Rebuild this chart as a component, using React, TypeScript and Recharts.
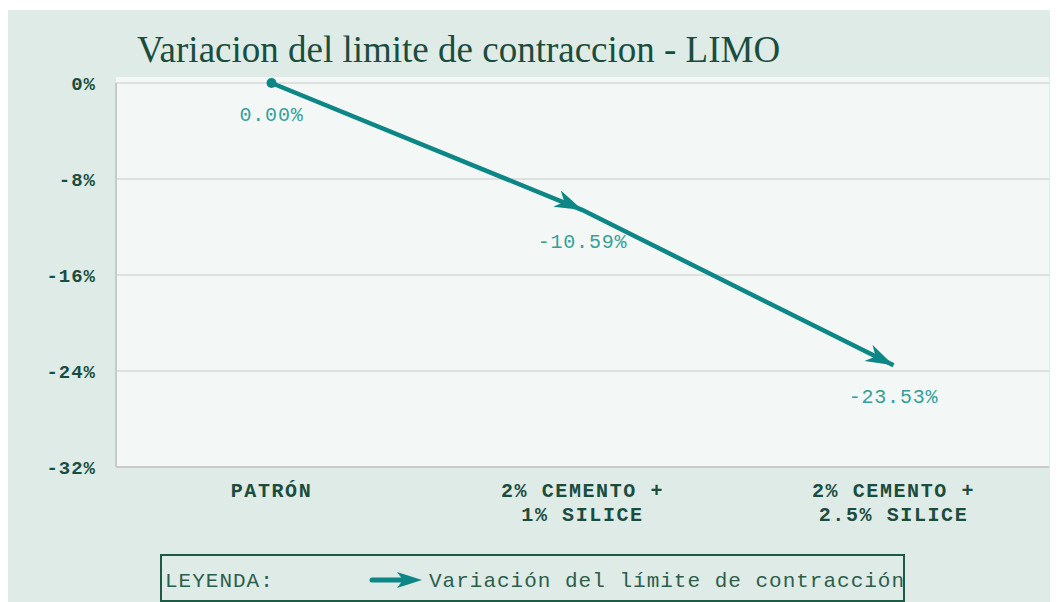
import { LineChart, Line, XAxis, YAxis, CartesianGrid, LabelList } from "recharts";

const categories = ["PATRÓN", "2% CEMENTO + 1% SILICE", "2% CEMENTO + 2.5% SILICE"];
const categoryLines = [["PATRÓN"], ["2% CEMENTO +", "1% SILICE"], ["2% CEMENTO +", "2.5% SILICE"]];
const variation = [0, -10.59, -23.53];
const yTicks = [0, -8, -16, -24, -32];

const data = categories.map((name, i) => ({ idx: i, name, value: variation[i] }));

const BG = "#deebe6";
const PLOT_BG = "#f3f8f6";
const DARK = "#1b4d3e";
const TEAL = "#0d8686";
const LABEL_TEAL = "#35a09b";
const MONO = "'Liberation Mono', 'DejaVu Sans Mono', monospace";

const XTick = (props: any) => {
  const { x, y, payload } = props;
  const lines = categoryLines[payload.value] ?? [];
  return (
    <text x={x} y={y} textAnchor="middle" fill={DARK} fontFamily={MONO} fontWeight="bold" fontSize={20} letterSpacing={1.6}>
      {lines.map((l, i) => (
        <tspan key={i} x={x} dy={i === 0 ? 22 : 24}>{l}</tspan>
      ))}
    </text>
  );
};

const ValueLabel = (props: any) => {
  const { x, y, value } = props;
  return (
    <text x={x} y={y + 38} textAnchor="middle" fill={LABEL_TEAL} fontFamily={MONO} fontSize={20} letterSpacing={0.8}>
      {Number(value).toFixed(2)}%
    </text>
  );
};

const StartDot = (props: any) => {
  const { cx, cy, index } = props;
  if (index !== 0) return <g key={index} />;
  return <circle key={index} cx={cx} cy={cy} r={5} fill={TEAL} />;
};

export default function App() {
  return (
    <div style={{ position: "relative", width: 1050, height: 592, marginTop: 2, background: BG, overflow: "hidden" }}>
      <svg width={0} height={0} style={{ position: "absolute" }}>
        <defs>
          <marker id="arrowHead" markerUnits="userSpaceOnUse" markerWidth={32} markerHeight={22} refX={28} refY={9} orient="auto">
            <path d="M0,0 L28,9 L0,18 L8,9 Z" fill={TEAL} />
          </marker>
        </defs>
      </svg>
      <div style={{ position: "absolute", left: 108, top: 67, width: 933, height: 390, background: PLOT_BG }} />
      <div style={{ position: "absolute", left: 0, top: 0 }}>
        <LineChart width={1050} height={592} data={data} margin={{ top: 73, right: 9, bottom: 75, left: 0 }}>
          <CartesianGrid vertical={false} stroke="#d8d8d8" strokeWidth={1.5} />
          <XAxis
            dataKey="idx"
            type="number"
            domain={[-0.5, 2.5]}
            ticks={[0, 1, 2]}
            height={60}
            axisLine={{ stroke: "#c9c9c9", strokeWidth: 2 }}
            tickLine={false}
            tick={<XTick />}
          />
          <YAxis
            type="number"
            domain={[-32, 0]}
            ticks={yTicks}
            width={108}
            axisLine={{ stroke: "#c9c9c9", strokeWidth: 2 }}
            tickLine={false}
            tickMargin={14}
            tickFormatter={(v: number) => `${v}%`}
            tick={{ fill: DARK, fontFamily: MONO, fontWeight: "bold", fontSize: 19, letterSpacing: 1 }}
          />
          <Line
            type="linear"
            dataKey="value"
            stroke={TEAL}
            strokeWidth={4.5}
            dot={<StartDot />}
            activeDot={false}
            markerMid="url(#arrowHead)"
            markerEnd="url(#arrowHead)"
            isAnimationActive={false}
          >
            <LabelList dataKey="value" content={<ValueLabel />} />
          </Line>
        </LineChart>
      </div>
      <svg width={1050} height={592} style={{ position: "absolute", left: 0, top: 0, pointerEvents: "none" }}>
        <text x={129} y={52} fill={DARK} fontFamily="'Liberation Serif', serif" fontSize={37}>
          Variacion del limite de contraccion - LIMO
        </text>
        <rect x={153} y={545} width={743} height={46} fill="none" stroke="#1e5a45" strokeWidth={2} />
        <text x={157} y={577} fill="#2d5e4c" fontFamily={MONO} fontSize={21} letterSpacing={1}>LEYENDA:</text>
        <line x1={364} y1={570} x2={402} y2={570} stroke={TEAL} strokeWidth={5} strokeLinecap="round" />
        <path d="M389,562 L414,570 L389,578 L395,570 Z" fill={TEAL} />
        <text x={421} y={577} fill="#2d5e4c" fontFamily={MONO} fontSize={21} letterSpacing={1}>
          Variación del límite de contracción
        </text>
      </svg>
    </div>
  );
}
